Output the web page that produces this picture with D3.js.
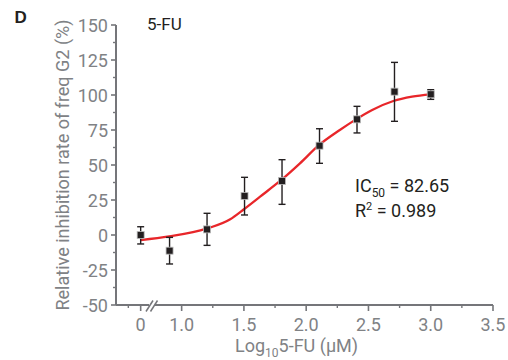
<!DOCTYPE html>
<html>
<head>
<meta charset="utf-8">
<script src="https://cdn.jsdelivr.net/npm/d3@7"></script>
<style>
  body { margin: 0; background: #fff; }
  svg { font-family: Roboto, sans-serif; }
</style>
</head>
<body>
<div id="chart"></div>
<script>
// log10 concentration of 5-FU (0 = untreated control)
const doseLog = [0, 0.903, 1.204, 1.505, 1.806, 2.107, 2.408, 2.709, 3.0]
const meanVals = [0, -11.2, 4.0, 27.9, 38.6, 63.8, 82.6, 102.4, 100.5]
const upperVals = [5.9, -1.7, 15.5, 41.2, 53.8, 75.9, 91.9, 123.3, 103.8]
const lowerVals = [-6.4, -20.7, -7.4, 14.3, 21.9, 51.2, 72.9, 81.2, 96.9]

// fitted curve
const fitX = [0, 0.9, 1.2, 1.39, 1.5, 1.63, 1.8, 1.95, 2.1, 2.27, 2.4, 2.53, 2.7, 2.85, 3.0]
const fitY = [-3.6, -1.0, 4.5, 11.2, 18.4, 27.4, 39.3, 51.2, 64, 75, 82.6, 89.3, 95.7, 98.8, 100.5]

const yMajor = [-50, -25, 0, 25, 50, 75, 100, 125, 150]
const yMinor = [-37.5, -12.5, 12.5, 37.5, 62.5, 87.5, 112.5, 137.5]
const xMajor = [0, 1.0, 1.5, 2.0, 2.5, 3.0, 3.5]
const xMajorLabels = ['0', '1.0', '1.5', '2.0', '2.5', '3.0', '3.5']
const xMinor = [-0.5, 1.25, 1.75, 2.25, 2.75, 3.25]

const width = 508
const height = 360
const axisColor = '#75767a'
const labelColor = '#808285'
const inkColor = '#231f20'

const svg = d3.select('#chart').append('svg')
  .attr('width', width)
  .attr('height', height)

// broken x axis: a short segment for the control, then the dose range
const x = d3.scaleLinear()
  .domain([-1, 0.5, 0.77, 3.5])
  .range([116, 153, 153, 493])
const y = d3.scaleLinear()
  .domain([-50, 150])
  .range([305, 25])

const x0 = x.range()[0]
const y0 = y(-50)

// y axis
svg.append('line')
  .attr('x1', x0).attr('x2', x0)
  .attr('y1', y(150)).attr('y2', y0)
  .attr('stroke', axisColor).attr('stroke-width', 2)
svg.selectAll('.ymaj').data(yMajor)
  .enter().append('line')
    .attr('x1', x0 - 5).attr('x2', x0)
    .attr('y1', (d) => y(d)).attr('y2', (d) => y(d))
    .attr('stroke', axisColor).attr('stroke-width', 1.6)
svg.selectAll('.ymin').data(yMinor)
  .enter().append('line')
    .attr('x1', x0 - 3).attr('x2', x0)
    .attr('y1', (d) => y(d)).attr('y2', (d) => y(d))
    .attr('stroke', axisColor).attr('stroke-width', 1.4)
svg.selectAll('.ylab').data(yMajor)
  .enter().append('text')
    .attr('x', x0 - 8)
    .attr('y', (d) => y(d) + 6.5)
    .attr('text-anchor', 'end')
    .attr('font-size', 18)
    .attr('fill', labelColor)
    .text((d) => d)

// x axis with break
const breakX = x(0.5)
svg.append('line')
  .attr('x1', x0).attr('x2', breakX - 4)
  .attr('y1', y0).attr('y2', y0)
  .attr('stroke', axisColor).attr('stroke-width', 2)
svg.append('line')
  .attr('x1', breakX + 2).attr('x2', x(3.5))
  .attr('y1', y0).attr('y2', y0)
  .attr('stroke', axisColor).attr('stroke-width', 2)
svg.selectAll('.brk').data([-4.5, 0])
  .enter().append('line')
    .attr('x1', (d) => breakX + d - 2.5).attr('x2', (d) => breakX + d + 4.5)
    .attr('y1', y0 + 6.5).attr('y2', y0 - 4.5)
    .attr('stroke', axisColor).attr('stroke-width', 1.5)
svg.selectAll('.xmaj').data(xMajor)
  .enter().append('line')
    .attr('x1', (d) => x(d)).attr('x2', (d) => x(d))
    .attr('y1', y0).attr('y2', y0 + 6)
    .attr('stroke', axisColor).attr('stroke-width', 1.6)
svg.selectAll('.xmin').data(xMinor)
  .enter().append('line')
    .attr('x1', (d) => x(d)).attr('x2', (d) => x(d))
    .attr('y1', y0).attr('y2', y0 + 3)
    .attr('stroke', axisColor).attr('stroke-width', 1.4)
svg.selectAll('.xlab').data(xMajor)
  .enter().append('text')
    .attr('x', (d) => x(d))
    .attr('y', y0 + 26)
    .attr('text-anchor', 'middle')
    .attr('font-size', 18)
    .attr('fill', labelColor)
    .text((d, i) => xMajorLabels[i])

// axis titles
const xTitle = svg.append('text')
  .attr('x', 235)
  .attr('y', 352)
  .attr('font-size', 18)
  .attr('fill', labelColor)
xTitle.append('tspan').text('Log')
xTitle.append('tspan').attr('font-size', 12).attr('dy', 5).text('10')
xTitle.append('tspan').attr('dy', -5).text('5-FU (μM)')

svg.append('text')
  .attr('transform', `translate(69, ${y(50)}) rotate(-90)`)
  .attr('text-anchor', 'middle')
  .attr('font-size', 18)
  .attr('fill', labelColor)
  .text('Relative inhibition rate of freq G2 (%)')

// panel letter and title
svg.append('text')
  .attr('x', 14.5).attr('y', 23)
  .attr('font-family', '"Liberation Sans", Arial, sans-serif')
  .attr('font-size', 17).attr('font-weight', 'bold')
  .attr('fill', inkColor)
  .text('D')
svg.append('text')
  .attr('x', 147).attr('y', 30)
  .attr('font-size', 17)
  .attr('fill', inkColor)
  .text('5-FU')

// fitted curve
const fitData = fitX.map((d, i) => ({x: d, y: fitY[i]}))
svg.append('path')
  .datum(fitData)
  .attr('fill', 'none')
  .attr('stroke', '#e8262a')
  .attr('stroke-width', 2.3)
  .attr('d', d3.line()
    .x((d) => x(d.x))
    .y((d) => y(d.y))
    .curve(d3.curveMonotoneX))

// error bars and points
const pts = doseLog.map((d, i) => ({x: d, m: meanVals[i], hi: upperVals[i], lo: lowerVals[i]}))
const bars = svg.append('g').attr('stroke', inkColor).attr('stroke-width', 1.4)
bars.selectAll('.eb').data(pts)
  .enter().append('line')
    .attr('x1', (d) => x(d.x)).attr('x2', (d) => x(d.x))
    .attr('y1', (d) => y(d.hi)).attr('y2', (d) => y(d.lo))
bars.selectAll('.capHi').data(pts)
  .enter().append('line')
    .attr('x1', (d) => x(d.x) - 3.5).attr('x2', (d) => x(d.x) + 3.5)
    .attr('y1', (d) => y(d.hi)).attr('y2', (d) => y(d.hi))
bars.selectAll('.capLo').data(pts)
  .enter().append('line')
    .attr('x1', (d) => x(d.x) - 3.5).attr('x2', (d) => x(d.x) + 3.5)
    .attr('y1', (d) => y(d.lo)).attr('y2', (d) => y(d.lo))
svg.selectAll('.pt').data(pts)
  .enter().append('rect')
    .attr('x', (d) => x(d.x) - 3.5)
    .attr('y', (d) => y(d.m) - 3.5)
    .attr('width', 7).attr('height', 7)
    .attr('fill', inkColor)
    .attr('stroke', '#bbbbbb').attr('stroke-width', 0.8)

// fit statistics
const ic = svg.append('text')
  .attr('x', 355).attr('y', 192)
  .attr('font-size', 18)
  .attr('fill', inkColor)
ic.append('tspan').text('IC')
ic.append('tspan').attr('font-size', 12).attr('dy', 5).text('50')
ic.append('tspan').attr('dy', -5).text(' = 82.65')
const r2 = svg.append('text')
  .attr('x', 355).attr('y', 217)
  .attr('font-size', 18)
  .attr('fill', inkColor)
r2.append('tspan').text('R')
r2.append('tspan').attr('font-size', 11).attr('dy', -7).text('2')
r2.append('tspan').attr('dy', 7).text(' = 0.989')
</script>
</body>
</html>
